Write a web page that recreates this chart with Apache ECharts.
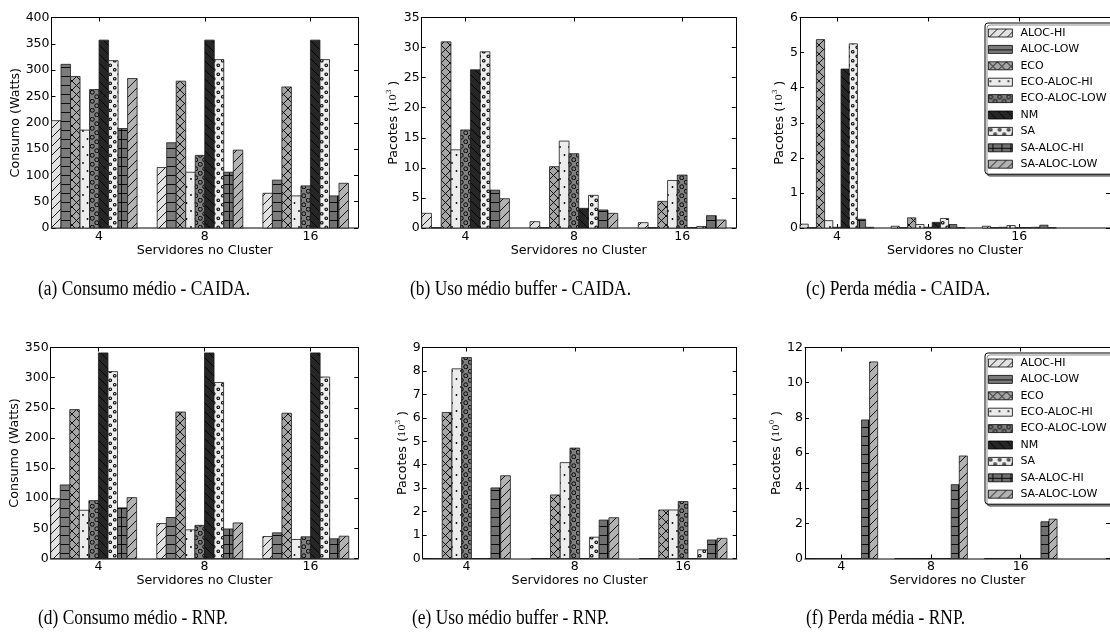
<!DOCTYPE html>
<html><head><meta charset="utf-8">
<script src="https://cdn.jsdelivr.net/npm/echarts@6/dist/echarts.min.js"></script>
<style>html,body{margin:0;padding:0;background:#fff}#c{width:1110px;height:636px}</style>
</head><body><div id="c"></div>
<script>
// ---------------- DATA ----------------
const categories = ['4', '8', '16'];
const seriesNames = ['ALOC-HI','ALOC-LOW','ECO','ECO-ALOC-HI','ECO-ALOC-LOW','NM','SA','SA-ALOC-HI','SA-ALOC-LOW'];
// each row: one series, values for clusters 4, 8, 16
const consumoCAIDA = [
  [204, 115, 66],
  [311, 162, 91],
  [288, 279, 268],
  [186, 106, 61],
  [263, 138, 80],
  [357, 357, 357],
  [318, 320, 320],
  [189, 106, 61],
  [284, 148, 85]
];
const bufferCAIDA = [
  [2.44, 1.05, 0.89],
  [0.05, 0.05, 0.05],
  [30.95, 10.2, 4.43],
  [13.0, 14.45, 7.9],
  [16.3, 12.35, 8.8],
  [26.3, 3.27, 0.05],
  [29.3, 5.43, 0.25],
  [6.3, 3.0, 2.05],
  [4.87, 2.44, 1.33]
];
const perdaCAIDA = [
  [0.11, 0.05, 0.05],
  [0.01, 0.01, 0.01],
  [5.37, 0.29, 0.02],
  [0.21, 0.10, 0.07],
  [0.02, 0.02, 0.01],
  [4.53, 0.16, 0.01],
  [5.25, 0.27, 0.02],
  [0.25, 0.10, 0.08],
  [0.02, 0.01, 0.01]
];
const consumoRNP = [
  [99, 58, 36.5],
  [122, 68, 42.6],
  [247, 243, 241],
  [80, 47.6, 31.6],
  [96, 55, 36],
  [341, 341, 341],
  [310, 292, 301],
  [84, 49, 32.7],
  [101, 59, 37]
];
const bufferRNP = [
  [0, 0, 0],
  [0, 0, 0],
  [6.23, 2.71, 2.07],
  [8.09, 4.09, 2.07],
  [8.57, 4.71, 2.43],
  [0, 0, 0],
  [0, 0.91, 0.37],
  [3.01, 1.64, 0.79],
  [3.53, 1.74, 0.86]
];
const perdaRNP = [
  [0, 0, 0],
  [0, 0, 0],
  [0, 0, 0],
  [0, 0, 0],
  [0, 0, 0],
  [0, 0, 0],
  [0, 0, 0],
  [7.88, 4.2, 2.09],
  [11.18, 5.83, 2.24]
];
const yMax = [400, 35, 6, 350, 9, 12];
const yStep = [50, 5, 1, 50, 1, 2];
const captions = ['(a) Consumo médio - CAIDA.', '(b) Uso médio buffer - CAIDA.', '(c) Perda média - CAIDA.',
                  '(d) Consumo médio - RNP.', '(e) Uso médio buffer - RNP.', '(f) Perda média - RNP.'];
const yNames = ['Consumo (Watts)', '{a|Pacotes (}{m|10}{s|3}{a| )}', '{a|Pacotes (}{m|10}{s|3}{a| )}',
                'Consumo (Watts)', '{a|Pacotes (}{m|10}{s|3}{a| )}', '{a|Pacotes (}{m|10}{s|0}{a| )}'];
const datasets = [consumoCAIDA, bufferCAIDA, perdaCAIDA, consumoRNP, bufferRNP, perdaRNP];

// ---------------- LAYOUT ----------------
const BW = 0.09;
const grids = [
  {left: 51.5, top: 17.5, width: 306.5, height: 210.5, xmax: 2.9, off: 0.45, gap: 29.5},
  {left: 421.7, top: 17.5, width: 314.1, height: 210.5, xmax: 2.9, off: 0.405, gap: 15},
  {left: 800, top: 17.5, width: 316, height: 210.5, xmax: 3.4, off: 0.405, gap: 9},
  {left: 50.7, top: 347.5, width: 307.6, height: 211, xmax: 2.9, off: 0.45, gap: 29.5},
  {left: 422.7, top: 347.5, width: 314, height: 211, xmax: 2.9, off: 0.405, gap: 12},
  {left: 805, top: 347.5, width: 312, height: 211, xmax: 3.4, off: 0.405, gap: 19}
];
const capPos = [[38, 290], [410, 290], [806, 290], [38, 619], [412, 619], [806, 619]];

// ---------------- PATTERNS ----------------
function pat(bg, kind, w, h) {
  w = w || 9; h = h || 9;
  const c = document.createElement('canvas'); c.width = w; c.height = h;
  const g = c.getContext('2d');
  g.fillStyle = bg; g.fillRect(0, 0, w, h);
  g.strokeStyle = '#000'; g.fillStyle = '#000'; g.lineWidth = 0.9;
  const line = (x1, y1, x2, y2) => { g.beginPath(); g.moveTo(x1, y1); g.lineTo(x2, y2); g.stroke(); };
  const s = w;
  if (kind === '/' || kind === 'x') { line(-1, s + 1, s + 1, -1); line(-1, 1, 1, -1); line(s - 1, s + 1, s + 1, s - 1); }
  if (kind === '\\' || kind === 'x') { line(-1, -1, s + 1, s + 1); line(s - 1, -1, s + 1, 1); line(-1, s - 1, 1, s + 1); }
  if (kind === '-' || kind === '+') line(0, h / 2, w, h / 2);
  if (kind === '+') line(w / 2, 0, w / 2, h);
  if (kind === '.') {
    [[2, 3], [6.5, 11]].forEach(p => { g.beginPath(); g.arc(p[0], p[1], 0.9, 0, Math.PI * 2); g.fill(); });
  }
  if (kind === 'O' || kind === 'o') {
    const r = kind === 'O' ? 2.0 : 1.3;
    g.lineWidth = kind === 'O' ? 1.0 : 1.1;
    [[2.25, 2.25], [6.75, 6.75]].forEach(p => { g.beginPath(); g.arc(p[0], p[1], r, 0, Math.PI * 2); g.stroke(); });
  }
  return {image: c, repeat: 'repeat'};
}
const patterns = [
  pat('#e2e2e2', '/'),
  pat('#7c7c7c', '-'),
  pat('#a6a6a6', 'x'),
  pat('#ececec', '.', 9, 16),
  pat('#808080', 'O'),
  pat('#262626', '\\'),
  pat('#eeeeee', 'o'),
  pat('#707070', '+'),
  pat('#b2b2b2', '/')
];

// ---------------- OPTION ----------------
const FONT = 'DejaVu Sans';
const xAxes = [], yAxes = [], series = [], gridOpts = [], graphics = [];
grids.forEach((gr, g) => {
  gridOpts.push({left: gr.left, top: gr.top, width: gr.width, height: gr.height, containLabel: false});
  const ticks = categories.map((c, i) => i + gr.off);
  xAxes.push({
    gridIndex: g, type: 'value', min: 0, max: gr.xmax, position: 'bottom',
    axisLine: {show: true, onZero: false, lineStyle: {color: '#555', width: 1.5}},
    axisTick: {show: true, inside: true, length: 4, customValues: ticks, lineStyle: {color: '#000'}},
    axisLabel: {show: true, customValues: ticks, margin: 2, fontSize: 12.5, color: '#000', fontFamily: FONT,
      formatter: v => categories[Math.round(v - gr.off)]},
    splitLine: {show: false},
    name: 'Servidores no Cluster', nameLocation: 'middle', nameGap: 14,
    nameTextStyle: {fontSize: 12.7, color: '#000', fontFamily: FONT, verticalAlign: 'top'}
  });
  xAxes.push({
    gridIndex: g, type: 'value', min: 0, max: gr.xmax, position: 'top',
    axisLine: {show: true, onZero: false, lineStyle: {color: '#000', width: 1}},
    axisTick: {show: true, inside: true, length: 4, customValues: ticks, lineStyle: {color: '#000'}},
    axisLabel: {show: false}, splitLine: {show: false}
  });
  yAxes.push({
    gridIndex: g, type: 'value', min: 0, max: yMax[g], interval: yStep[g], position: 'left',
    axisLine: {show: true, onZero: false, lineStyle: {color: '#000', width: 1}},
    axisTick: {show: true, inside: true, length: 4, lineStyle: {color: '#000'}},
    axisLabel: {margin: 2, fontSize: 12.5, color: '#000', fontFamily: FONT},
    splitLine: {show: false},
    name: yNames[g], nameLocation: 'middle', nameGap: gr.gap,
    nameTextStyle: {fontSize: 12.7, color: '#000', fontFamily: FONT,
      rich: {
        a: {fontSize: 12.7, fontFamily: FONT, color: '#000', lineHeight: 16},
        m: {fontSize: 10, fontFamily: 'DejaVu Serif', color: '#000', lineHeight: 16},
        s: {fontSize: 7, fontFamily: 'DejaVu Serif', color: '#000', lineHeight: 9, verticalAlign: 'top'}
      }}
  });
  yAxes.push({
    gridIndex: g, type: 'value', min: 0, max: yMax[g], interval: yStep[g], position: 'right',
    axisLine: {show: true, onZero: false, lineStyle: {color: '#000', width: 1}},
    axisTick: {show: true, inside: true, length: 4, lineStyle: {color: '#000'}},
    axisLabel: {show: false}, splitLine: {show: false}
  });
  seriesNames.forEach((name, s) => {
    series.push({
      type: 'custom', name: name, xAxisIndex: 2 * g, yAxisIndex: 2 * g,
      itemStyle: {color: patterns[s]},
      data: datasets[g][s].map((v, i) => [i, v]),
      renderItem: (params, api) => {
        const gi = api.value(0), v = api.value(1);
        const x0 = gi + s * BW;
        const a = api.coord([x0, v]);
        const b = api.coord([x0 + BW, 0]);
        return {type: 'rect', shape: {x: a[0], y: a[1], width: b[0] - a[0], height: b[1] - a[1]},
          style: {fill: patterns[s], stroke: '#1a1a1a', lineWidth: 0.8}};
      }
    });
  });
  graphics.push({type: 'text', x: capPos[g][0], y: capPos[g][1], scaleX: 0.87,
    style: {text: captions[g], font: '20px "Liberation Serif"', fill: '#000',
      textAlign: 'left', textVerticalAlign: 'middle', verticalAlign: 'middle'}});
});

function legendAt(top) {
  return {
    orient: 'vertical', left: 985, top: top, icon: 'rect',
    itemWidth: 24, itemHeight: 8, itemGap: 2.4,
    padding: [3, 40, 3, 3],
    backgroundColor: '#fff', borderColor: '#000', borderWidth: 1, borderRadius: 3,
    shadowColor: 'rgba(0,0,0,0.45)', shadowOffsetX: 2, shadowOffsetY: 2, shadowBlur: 0,
    textStyle: {fontSize: 11, fontFamily: FONT, color: '#000', lineHeight: 14, padding: [0, 0, 0, 3]},
    selectedMode: false,
    data: seriesNames.map((n, s) => ({name: n, icon: 'rect',
      itemStyle: {color: patterns[s], borderColor: '#000', borderWidth: 0.8}}))
  };
}

const chart = echarts.init(document.getElementById('c'), null, {renderer: 'canvas'});
chart.setOption({
  animation: false,
  backgroundColor: '#fff',
  grid: gridOpts,
  xAxis: xAxes,
  yAxis: yAxes,
  legend: [legendAt(23), legendAt(353)],
  series: series,
  graphic: graphics
});
</script></body></html>
